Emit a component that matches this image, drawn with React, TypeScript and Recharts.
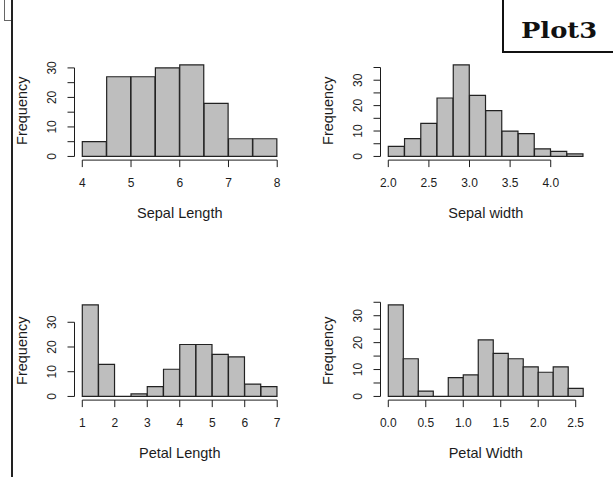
import { BarChart, Bar, XAxis, YAxis, ReferenceLine } from 'recharts'

// iris histograms, R hist() default breaks
const sepalLengthBreaks = [4, 4.5, 5, 5.5, 6, 6.5, 7, 7.5, 8]
const sepalLengthCounts = [5, 27, 27, 30, 31, 18, 6, 6]
const sepalLengthTicks = [4, 5, 6, 7, 8]
const sepalLengthFreqTicks = [0, 5, 10, 15, 20, 25, 30]

const sepalWidthBreaks = [2.0, 2.2, 2.4, 2.6, 2.8, 3.0, 3.2, 3.4, 3.6, 3.8, 4.0, 4.2, 4.4]
const sepalWidthCounts = [4, 7, 13, 23, 36, 24, 18, 10, 9, 3, 2, 1]
const sepalWidthTicks = [2.0, 2.5, 3.0, 3.5, 4.0]
const sepalWidthFreqTicks = [0, 5, 10, 15, 20, 25, 30, 35]

const petalLengthBreaks = [1, 1.5, 2, 2.5, 3, 3.5, 4, 4.5, 5, 5.5, 6, 6.5, 7]
const petalLengthCounts = [37, 13, 0, 1, 4, 11, 21, 21, 17, 16, 5, 4]
const petalLengthTicks = [1, 2, 3, 4, 5, 6, 7]
const petalLengthFreqTicks = [0, 10, 20, 30]

const petalWidthBreaks = [0, 0.2, 0.4, 0.6, 0.8, 1.0, 1.2, 1.4, 1.6, 1.8, 2.0, 2.2, 2.4, 2.6]
const petalWidthCounts = [34, 14, 2, 0, 7, 8, 21, 16, 14, 11, 9, 11, 3]
const petalWidthTicks = [0, 0.5, 1.0, 1.5, 2.0, 2.5]
const petalWidthFreqTicks = [0, 5, 10, 15, 20, 25, 30, 35]

const FONT = '"Liberation Sans", Arial, sans-serif'
const INK = '#1c1c1c'

const XTick = ({ x, y, payload, digits }: any) => (
  <text x={x} y={y + 20} textAnchor="middle" fontSize={12} fill={INK} fontFamily={FONT}>
    {Number(payload.value).toFixed(digits)}
  </text>
)

// R drops the in-between labels that would overlap
const YTick = ({ x, y, payload }: any) =>
  payload.value % 10 !== 0 ? null : (
    <text
      transform={`translate(${x - 11.8}, ${y}) rotate(-90)`}
      textAnchor="middle"
      fontSize={12}
      fill={INK}
      fontFamily={FONT}
    >
      {payload.value}
    </text>
  )

const XTitle = ({ viewBox, text }: any) => (
  <text
    x={viewBox.x + viewBox.width / 2}
    y={viewBox.y + 58}
    textAnchor="middle"
    fontSize={14.5}
    fill={INK}
    fontFamily={FONT}
  >
    {text}
  </text>
)

const FreqLabel = ({ viewBox }: any) => {
  const cx = viewBox.x + 21.7 + 5
  const cy = viewBox.y + viewBox.height / 2
  return (
    <text transform={`translate(${cx}, ${cy}) rotate(-90)`} textAnchor="middle" fontSize={14.5} fill={INK} fontFamily={FONT}>
      Frequency
    </text>
  )
}

interface HistProps {
  breaks: number[]
  counts: number[]
  ticks: number[]
  freqTicks: number[]
  digits: number
  title: string
}

function Histogram({ breaks, counts, ticks, freqTicks, digits, title }: HistProps) {
  const data = counts.map((c, i) => ({ mid: (breaks[i] + breaks[i + 1]) / 2, count: c }))
  const lo = breaks[0]
  const hi = breaks[breaks.length - 1]
  const yMax = Math.max(...counts)
  // R's default 4% axis extension
  const xDomain = [lo - 0.04 * (hi - lo), hi + 0.04 * (hi - lo)]
  const yDomain = [-0.04 * yMax, 1.04 * yMax]

  return (
    <BarChart
      width={306}
      height={237}
      data={data}
      margin={{ top: 61.3, right: 21, bottom: 6.9, left: 0 }}
      barCategoryGap={0}
      barGap={0}
    >
      <XAxis
        dataKey="mid"
        type="number"
        domain={xDomain}
        ticks={ticks}
        interval={0}
        allowDataOverflow
        axisLine={false}
        tickLine={{ stroke: INK }}
        tickSize={7}
        tickMargin={0}
        height={70}
        tick={<XTick digits={digits} />}
        label={<XTitle text={title} />}
      />
      <YAxis
        type="number"
        domain={yDomain}
        ticks={freqTicks}
        interval={0}
        allowDataOverflow
        axisLine={false}
        tickLine={{ stroke: INK }}
        tickSize={7}
        tickMargin={0}
        width={74.5}
        tick={<YTick />}
        label={<FreqLabel />}
      />
      <ReferenceLine
        segment={[{ x: ticks[0], y: yDomain[0] }, { x: ticks[ticks.length - 1], y: yDomain[0] }]}
        stroke={INK}
        ifOverflow="visible"
      />
      <ReferenceLine
        segment={[{ x: xDomain[0], y: freqTicks[0] }, { x: xDomain[0], y: freqTicks[freqTicks.length - 1] }]}
        stroke={INK}
        ifOverflow="visible"
      />
      <Bar dataKey="count" fill="#bebebe" stroke="#222" strokeWidth={1.2} minPointSize={0.01} isAnimationActive={false} />
    </BarChart>
  )
}

export default function App() {
  const cell = (left: number, top: number) => ({ position: 'absolute' as const, left, top })
  return (
    <div style={{ position: 'absolute', left: 0, top: 0, width: 613, height: 477, background: '#fff', overflow: 'hidden' }}>
      <div style={cell(0, 0)}>
        <Histogram breaks={sepalLengthBreaks} counts={sepalLengthCounts} ticks={sepalLengthTicks} freqTicks={sepalLengthFreqTicks} digits={0} title="Sepal Length" />
      </div>
      <div style={cell(306, 0)}>
        <Histogram breaks={sepalWidthBreaks} counts={sepalWidthCounts} ticks={sepalWidthTicks} freqTicks={sepalWidthFreqTicks} digits={1} title="Sepal width" />
      </div>
      <div style={cell(0, 240.2)}>
        <Histogram breaks={petalLengthBreaks} counts={petalLengthCounts} ticks={petalLengthTicks} freqTicks={petalLengthFreqTicks} digits={0} title="Petal Length" />
      </div>
      <div style={cell(306, 240.2)}>
        <Histogram breaks={petalWidthBreaks} counts={petalWidthCounts} ticks={petalWidthTicks} freqTicks={petalWidthFreqTicks} digits={1} title="Petal Width" />
      </div>

      {/* page frame bits around the figure */}
      <div style={{ position: 'absolute', left: 4, top: -1, width: 7, height: 20, border: '1px solid #666', borderRight: 'none' }} />
      <div style={{ position: 'absolute', left: 11, top: 0, width: 1.5, height: 477, background: '#222' }} />
      <div
        style={{
          position: 'absolute',
          left: 502,
          top: -2,
          width: 120,
          height: 55,
          border: '2px solid #111',
          boxSizing: 'border-box',
          background: '#fff',
        }}
      >
        <div
          style={{
            position: 'absolute',
            left: 17,
            top: 15,
            fontFamily: '"DejaVu Serif", "Liberation Serif", serif',
            fontWeight: 700,
            fontSize: 23,
            lineHeight: '30px',
            color: '#111',
            transform: 'scaleX(1.12)',
            transformOrigin: 'left center',
          }}
        >
          Plot3
        </div>
      </div>
    </div>
  )
}
